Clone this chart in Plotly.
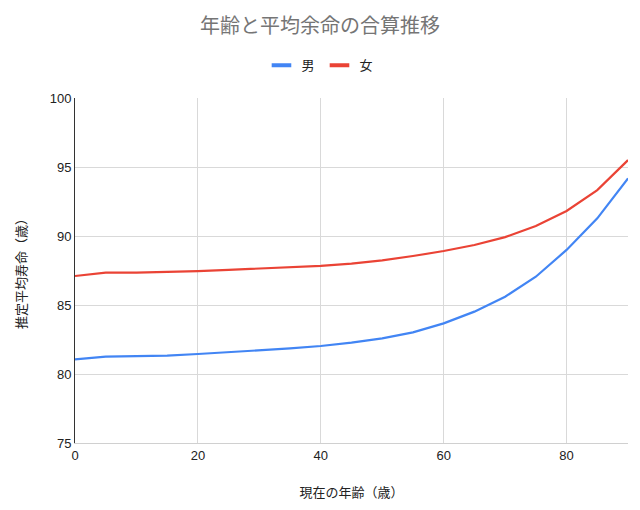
import plotly.graph_objects as go

ages = [0, 5, 10, 15, 20, 25, 30, 35, 40, 45, 50, 55, 60, 65, 70, 75, 80, 85, 90]
male = [81.06, 81.26, 81.30, 81.33, 81.45, 81.58, 81.70, 81.85, 82.03, 82.27, 82.58, 83.02, 83.67, 84.52, 85.60, 87.05, 88.99, 91.28, 94.18]
female = [87.10, 87.34, 87.34, 87.38, 87.46, 87.55, 87.64, 87.72, 87.83, 88.00, 88.24, 88.55, 88.91, 89.35, 89.92, 90.72, 91.81, 93.33, 95.50]

x_ticks = [0, 20, 40, 60, 80]
y_ticks = [75, 80, 85, 90, 95, 100]

series = [("男", male, "#4285F4"), ("女", female, "#EA4335")]

font_family = "'Liberation Sans', Arial, 'Noto Sans CJK JP', sans-serif"
title_family = "'Noto Sans CJK JP', sans-serif"

fig = go.Figure()
for name, vals, color in series:
    fig.add_trace(go.Scatter(x=ages, y=vals, mode="lines", name=name,
                             line=dict(color=color, width=2.2), showlegend=False,
                             legendgroup=name))
for name, vals, color in series:
    fig.add_trace(go.Scatter(x=[None], y=[None], mode="markers", name=name,
                             legendgroup=name, showlegend=True,
                             marker=dict(symbol="line-ew-open", size=14, color=color,
                                         line=dict(width=4, color=color))))

fig.update_layout(
    width=640, height=510,
    paper_bgcolor="white", plot_bgcolor="white",
    margin=dict(l=75, r=12, t=98, b=67),
    font=dict(family=font_family, color="#222222", size=12),
    title=dict(text="年齢と平均余命の合算推移", x=0.5, xanchor="center",
               y=0.95, yanchor="middle",
               font=dict(size=20, color="#757575", family=title_family)),
    legend=dict(orientation="h", x=0.443, xanchor="center",
                y=1.095, yanchor="middle",
                font=dict(size=13, color="#222222", family=title_family), itemwidth=30),
    showlegend=True,
)
fig.update_xaxes(
    range=[0, 90], tickvals=x_ticks, ticktext=[str(v) for v in x_ticks],
    showgrid=True, gridcolor="#d9d9d9", gridwidth=1,
    zeroline=False, showline=True, linecolor="#d0d0d0", linewidth=1,
    ticks="", tickfont=dict(size=13, color="#222222"),
    title=dict(text="現在の年齢（歳）", font=dict(size=13, color="#222222", family=title_family), standoff=26),
)
fig.update_yaxes(
    range=[75, 100], tickvals=y_ticks, ticktext=[str(v) for v in y_ticks],
    showgrid=True, gridcolor="#d9d9d9", gridwidth=1,
    zeroline=False, showline=True, linecolor="#333333", linewidth=1,
    ticks="", tickfont=dict(size=13, color="#222222"),
    title=dict(text="推定平均寿命（歳）", font=dict(size=13, color="#222222", family=title_family), standoff=20),
)

fig.write_html("out.html", config={"displayModeBar": False},
               post_script="document.body.style.margin='0';")
